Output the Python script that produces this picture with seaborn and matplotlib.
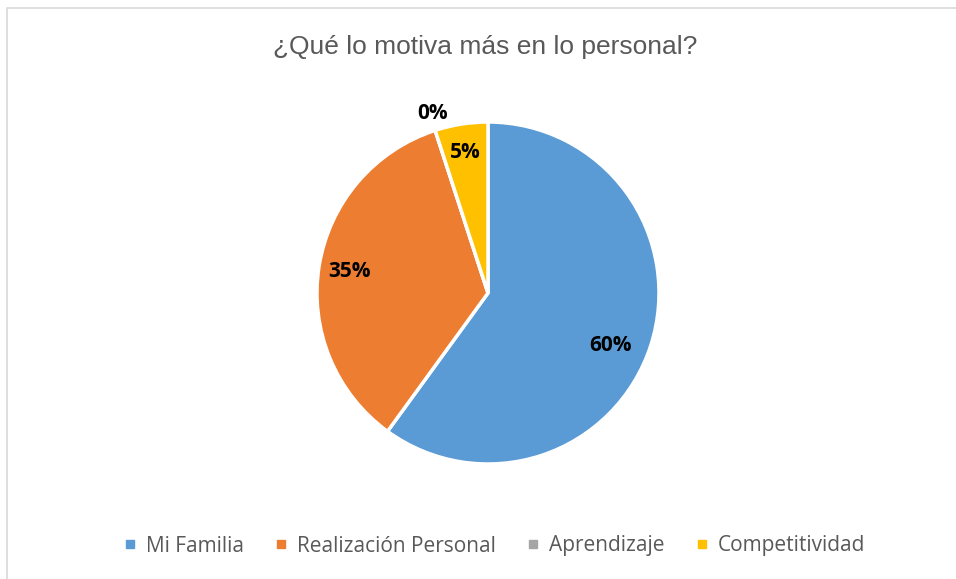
import numpy as np
import seaborn as sns
import matplotlib.pyplot as plt
from matplotlib.patches import Rectangle
from matplotlib.lines import Line2D

sns.set_style('white')
plt.rcParams['font.family'] = ['Open Sans', 'DejaVu Sans']

# datos del gráfico
categorias = ['Mi Familia', 'Realización Personal', 'Aprendizaje', 'Competitividad']
porcentajes = [60, 35, 0, 5]
colores = sns.color_palette(['#5B9BD5', '#ED7D31', '#A5A5A5', '#FFC000'])

fig = plt.figure(figsize=(9.56, 5.79), dpi=100)

# marco del área del gráfico (estilo Excel)
fig.patches.append(Rectangle((7 / 956, -0.1), 1.2, (579 - 8) / 579 + 0.1,
                             transform=fig.transFigure, fill=False,
                             edgecolor='#D9D9D9', linewidth=1.2))

ax = fig.add_axes([317 / 956, 115 / 579, 342 / 956, 342 / 579])
wedges, textos, pct = ax.pie(porcentajes, colors=colores, startangle=90,
                             counterclock=False, autopct='%1.0f%%',
                             pctdistance=0.8,
                             wedgeprops=dict(edgecolor='white', linewidth=2.5),
                             textprops=dict(fontsize=15, fontweight='bold', color='black'))
ax.set_xlim(-1, 1)
ax.set_ylim(-1, 1)
ax.set_aspect('equal')
ax.axis('off')

# colocación de etiquetas tipo "ajuste óptimo" de Excel (radio, giro en grados)
ajustes = [(0.78, -5), (0.82, 0), (1.1, -1), (0.83, 0)]
for w, t, (r, giro) in zip(wedges, pct, ajustes):
    ang = np.deg2rad((w.theta1 + w.theta2) / 2 + giro)
    t.set_position((r * np.cos(ang), r * np.sin(ang)))

fig.text(0.508, 0.918, '¿Qué lo motiva más en lo personal?', ha='center', va='center',
         fontsize=19, color='#595959', family=['Liberation Sans', 'DejaVu Sans'])

handles = [Line2D([], [], marker='s', linestyle='', markersize=6,
                  markerfacecolor=c, markeredgecolor=c) for c in colores]
fig.legend(handles, categorias, loc='center', bbox_to_anchor=(0.517, 1 - 546 / 579),
           ncol=4, frameon=False, fontsize=15, labelcolor='#595959',
           handlelength=0.6, handletextpad=0.45, columnspacing=1.5,
           bbox_transform=fig.transFigure)

fig.savefig('out.png', dpi=100)
